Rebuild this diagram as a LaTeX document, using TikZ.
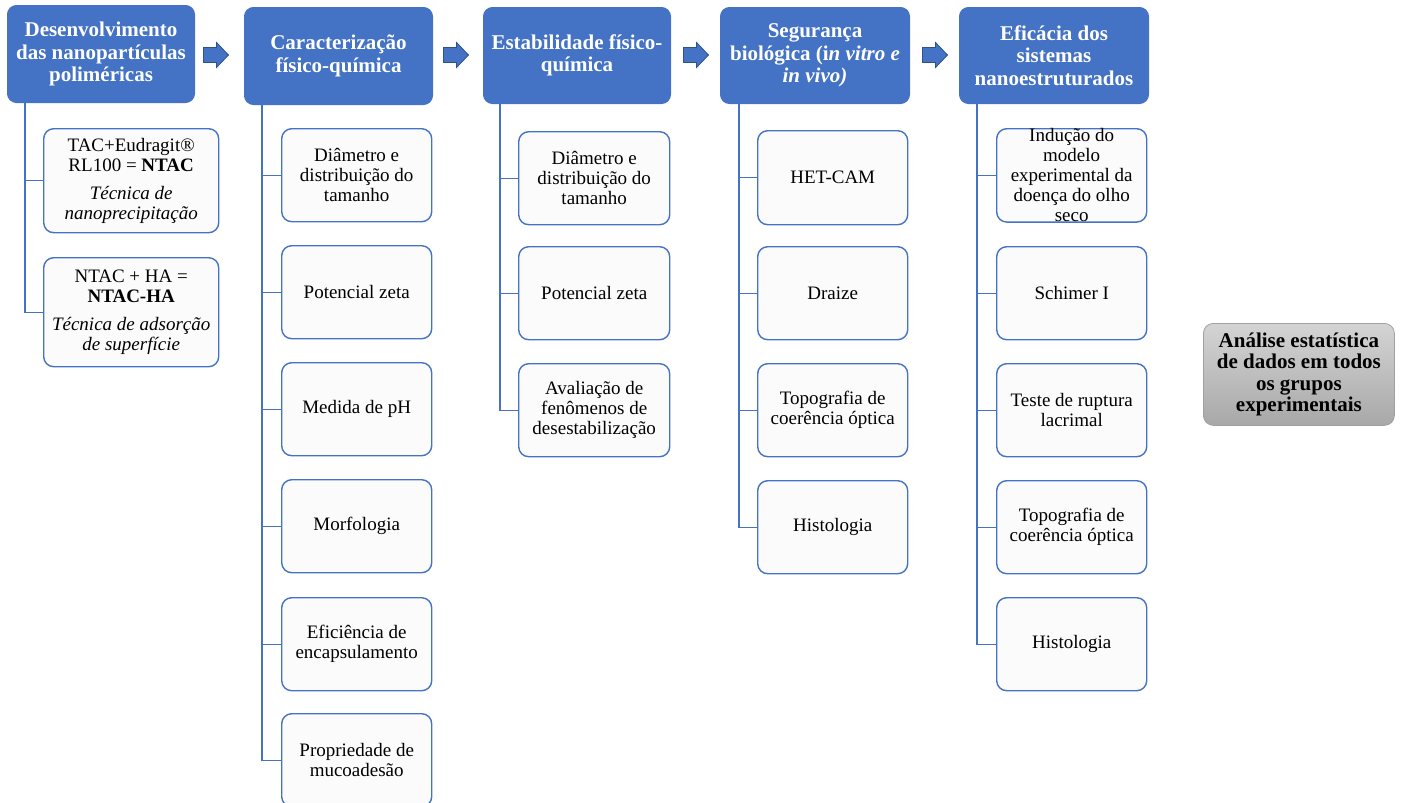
\documentclass[tikz,border=0pt]{standalone}
\usepackage{fontspec}
\setmainfont{Liberation Serif}
\definecolor{hblue}{HTML}{4472C4}
\definecolor{aedge}{HTML}{2F528F}
\definecolor{cfill}{HTML}{FBFBFB}
\definecolor{gtop}{HTML}{D4D4D4}
\definecolor{gbot}{HTML}{A8A8A8}
\definecolor{gedge}{HTML}{A0A0A0}
\tikzset{
 hbox/.style={draw=hblue, fill=hblue, rounded corners=9pt, line width=1pt, text=white,
   font=\fontsize{21}{22.5}\selectfont\bfseries, align=center, inner sep=0pt, anchor=north west},
 cbox/.style={draw=hblue, fill=cfill, rounded corners=10pt, line width=1.4pt,
   font=\fontsize{19}{20}\selectfont, align=center, inner sep=0pt, anchor=north west},
 gbox/.style={draw=gedge, top color=gtop, bottom color=gbot, rounded corners=10pt, line width=0.8pt,
   font=\fontsize{21}{21.5}\selectfont\bfseries, align=center, inner sep=0pt, anchor=north west},
 tree/.style={draw=hblue, line width=1.4pt},
 barrow/.style={fill=hblue, draw=aedge, line width=0.8pt, line join=miter},
}
\newcommand{\blockarrow}[2]{%
  \draw[barrow] (#1-12.5,#2-7.5) -- (#1+0.5,#2-7.5) -- (#1+0.5,#2-12.5) -- (#1+12.5,#2)
   -- (#1+0.5,#2+12.5) -- (#1+0.5,#2+7.5) -- (#1-12.5,#2+7.5) -- cycle;}
\begin{document}
\begin{tikzpicture}[x=1pt,y=-1pt]
\useasboundingbox (0,0) rectangle (1403,803);
\begin{scope}
\clip (0,0) rectangle (1403,803);
% headers
\node[hbox, minimum width=187pt, minimum height=97pt] (h1) at (7,5)
  {Desenvolvimento\\das nanopartículas\\poliméricas};
\node[hbox, minimum width=188pt, minimum height=97pt] (h2) at (244,7)
  {Caracterização\\físico-química};
\node[hbox, minimum width=187pt, minimum height=96pt] (h3) at (483,7)
  {Estabilidade físico-\\química};
\node[hbox, minimum width=189pt, minimum height=96pt] (h4) at (720,7)
  {Segurança\\biológica (i\textit{n vitro e}\\\textit{in vivo)}};
\node[hbox, minimum width=189pt, minimum height=96pt] (h5) at (959,7)
  {Eficácia dos\\sistemas\\nanoestruturados};
% arrows
\blockarrow{216}{55}
\blockarrow{456}{55}
\blockarrow{696}{55}
\blockarrow{935}{55}
% column 1
\node[cbox, minimum width=175pt, minimum height=104pt] (c1a) at (43,128)
  {TAC+Eudragit®\\RL100 = \textbf{NTAC}\\[8pt]\textit{Técnica de}\\\textit{nanoprecipitação}};
\node[cbox, minimum width=175pt, minimum height=109pt] (c1b) at (43,257)
  {NTAC + HA =\\\textbf{NTAC-HA}\\[8pt]\textit{Técnica de adsorção}\\\textit{de superfície}};
% column 2
\node[cbox, minimum width=150pt, minimum height=93pt] (c2a) at (281,128) {Diâmetro e\\distribuição do\\tamanho};
\node[cbox, minimum width=150pt, minimum height=93pt] (c2b) at (281,245) {Potencial zeta};
\node[cbox, minimum width=150pt, minimum height=93pt] (c2c) at (281,362) {Medida de pH};
\node[cbox, minimum width=150pt, minimum height=93pt] (c2d) at (281,479) {Morfologia};
\node[cbox, minimum width=150pt, minimum height=93pt] (c2e) at (281,597) {Eficiência de\\encapsulamento};
\node[cbox, minimum width=150pt, minimum height=93pt] (c2f) at (281,713) {Propriedade de\\mucoadesão};
% column 3
\node[cbox, minimum width=151pt, minimum height=93pt] (c3a) at (518,131) {Diâmetro e\\distribuição do\\tamanho};
\node[cbox, minimum width=151pt, minimum height=93pt] (c3b) at (518,246) {Potencial zeta};
\node[cbox, minimum width=151pt, minimum height=93pt] (c3c) at (518,363) {Avaliação de\\fenômenos de\\desestabilização};
% column 4
\node[cbox, minimum width=150pt, minimum height=94pt] (c4a) at (757,130) {HET-CAM};
\node[cbox, minimum width=150pt, minimum height=93pt] (c4b) at (757,246) {Draize};
\node[cbox, minimum width=150pt, minimum height=93pt] (c4c) at (757,363) {Topografia de\\coerência óptica};
\node[cbox, minimum width=150pt, minimum height=93pt] (c4d) at (757,480) {Histologia};
% column 5
\node[cbox, minimum width=150pt, minimum height=93pt] (c5a) at (996,128) {Indução do\\modelo\\experimental da\\doença do olho\\seco};
\node[cbox, minimum width=150pt, minimum height=93pt] (c5b) at (996,246) {Schimer I};
\node[cbox, minimum width=150pt, minimum height=93pt] (c5c) at (996,363) {Teste de ruptura\\lacrimal};
\node[cbox, minimum width=150pt, minimum height=93pt] (c5d) at (996,480) {Topografia de\\coerência óptica};
\node[cbox, minimum width=150pt, minimum height=93pt] (c5e) at (996,597) {Histologia};
% gray box
\node[gbox, minimum width=191pt, minimum height=102pt] (g) at (1203,323)
  {Análise estatística\\de dados em todos\\os grupos\\experimentais};
% trees
\coordinate (t1) at (25,102);
\coordinate (t2) at (262,104);
\coordinate (t3) at (500,103);
\coordinate (t4) at (739,103);
\coordinate (t5) at (977,103);
\draw[tree] (t1) |- (c1b.west);
\draw[tree] (c1a.west) -- (c1a.west -| t1);
\draw[tree] (t2) |- (c2f.west);
\foreach \n in {c2a,c2b,c2c,c2d,c2e} \draw[tree] (\n.west) -- (\n.west -| t2);
\draw[tree] (t3) |- (c3c.west);
\foreach \n in {c3a,c3b} \draw[tree] (\n.west) -- (\n.west -| t3);
\draw[tree] (t4) |- (c4d.west);
\foreach \n in {c4a,c4b,c4c} \draw[tree] (\n.west) -- (\n.west -| t4);
\draw[tree] (t5) |- (c5e.west);
\foreach \n in {c5a,c5b,c5c,c5d} \draw[tree] (\n.west) -- (\n.west -| t5);
\end{scope}
\end{tikzpicture}
\end{document}
